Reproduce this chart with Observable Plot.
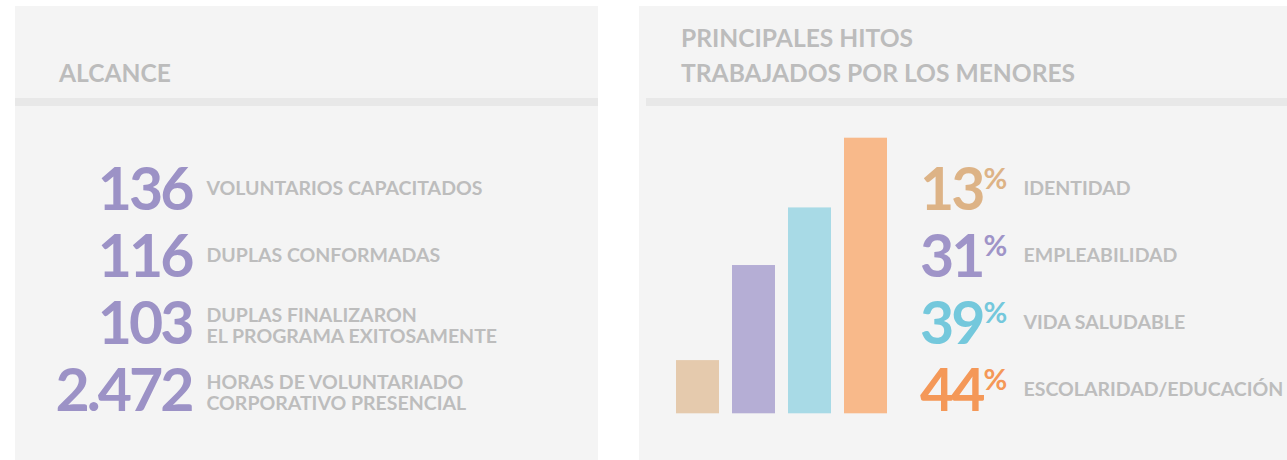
<!DOCTYPE html>
<html><head><meta charset="utf-8">
<script src="https://cdn.jsdelivr.net/npm/d3@7"></script>
<script src="https://cdn.jsdelivr.net/npm/@observablehq/plot@0.6"></script>
<style>
html,body{margin:0;padding:0;background:#fff;}
#root{position:relative;width:1287px;height:460px;overflow:hidden;font-family:Lato,sans-serif;}
#root svg{position:absolute;}
#root g[font-size="59"] text{letter-spacing:-3px}
</style></head><body><div id="root"></div>
<script>
// ---- data ----
const alcanceValues = ["136", "116", "103", "2.472"];
const alcanceLabels = [
  "VOLUNTARIOS CAPACITADOS",
  "DUPLAS CONFORMADAS",
  "DUPLAS FINALIZARON\nEL PROGRAMA EXITOSAMENTE",
  "HORAS DE VOLUNTARIADO\nCORPORATIVO PRESENCIAL"
];
const hitosCategories = ["IDENTIDAD", "EMPLEABILIDAD", "VIDA SALUDABLE", "ESCOLARIDAD/EDUCACIÓN"];
const hitosPercent = [13, 31, 39, 44];
// bar lengths as drawn in the picture (percent of the tallest bar)
const hitosBarHeight = [19.3, 53.8, 74.7, 100];
const hitosBarColors = ["#e5caad", "#b5aed5", "#a8dae6", "#f8b98a"];
const hitosTextColors = ["#ddb386", "#9f94c8", "#74c8dc", "#f49858"];
const panelTitles = ["ALCANCE", "PRINCIPALES HITOS\nTRABAJADOS POR LOS MENORES"];

const root = document.getElementById("root");
const LABEL_GRAY = "#bdbdbd";
const FONT = "Lato, 'Open Sans', sans-serif";

// ---- background panels and titles ----
const bg = d3.create("svg").attr("width", 1287).attr("height", 460).style("left", "0px").style("top", "0px");
bg.append("rect").attr("x", 15).attr("y", 6).attr("width", 583).attr("height", 460).attr("fill", "#f4f4f4");
bg.append("rect").attr("x", 15).attr("y", 98).attr("width", 583).attr("height", 8).attr("fill", "#e8e8e8");
bg.append("rect").attr("x", 639).attr("y", 6).attr("width", 648).attr("height", 460).attr("fill", "#f4f4f4");
bg.append("rect").attr("x", 646).attr("y", 98).attr("width", 641).attr("height", 8).attr("fill", "#e8e8e8");
const titleStyle = t => t.attr("font-family", FONT).attr("font-weight", 700).attr("font-size", 24.6).attr("fill", "#bcbcbc");
titleStyle(bg.append("text").attr("x", 59).attr("y", 82).text(panelTitles[0]));
const t2 = titleStyle(bg.append("text").attr("x", 681).attr("y", 47));
panelTitles[1].split("\n").forEach((line, i) => {
  t2.append("tspan").attr("x", 681).attr("dy", i === 0 ? 0 : 35).text(line);
});
root.appendChild(bg.node());

const rowRange = [66.5, 270]; // row centers inside the list svgs (top = 120)
const plotStyle = {background: "transparent", overflow: "visible"};

// ---- left list: ALCANCE ----
const alcance = alcanceValues.map((v, i) => ({row: i, value: v, label: alcanceLabels[i], lines: alcanceLabels[i].split("\n").length}));
const left = Plot.plot({
  width: 583, height: 320,
  marginLeft: 177, marginRight: 0, marginTop: 0, marginBottom: 0,
  style: plotStyle,
  y: {type: "point", domain: d3.range(alcance.length), range: rowRange, padding: 0, axis: null},
  marks: [
    Plot.text(alcance, {y: "row", text: "value", frameAnchor: "left", textAnchor: "end", lineAnchor: "bottom", dy: 21, dx: -1,
      fontFamily: FONT, fontWeight: 700, fontSize: 59, fill: "#9c92c6"}),
    Plot.text(alcance.filter(d => d.lines === 1), {y: "row", text: "label", frameAnchor: "left", textAnchor: "start", dx: 14,
      lineAnchor: "middle", lineHeight: 1.05, fontFamily: FONT, fontWeight: 700, fontSize: 19.5, fill: LABEL_GRAY}),
    Plot.text(alcance.filter(d => d.lines > 1), {y: "row", text: "label", frameAnchor: "left", textAnchor: "start", dx: 14, dy: 3.5,
      lineAnchor: "middle", lineHeight: 1.05, fontFamily: FONT, fontWeight: 700, fontSize: 19.5, fill: LABEL_GRAY})
  ]
});
left.style.left = "15px"; left.style.top = "120px";
root.appendChild(left);

// ---- right bars ----
const hitos = hitosCategories.map((c, i) => ({row: i, category: c, pct: hitosPercent[i], bar: hitosBarHeight[i],
  barColor: hitosBarColors[i], textColor: hitosTextColors[i]}));
const bars = Plot.plot({
  width: 250, height: 310,
  marginLeft: 0, marginRight: 0, marginTop: 0, marginBottom: 0,
  style: plotStyle,
  color: {type: "identity"},
  x: {type: "band", domain: hitosCategories, range: [15.7, 227], paddingInner: 0.24, paddingOuter: 0, axis: null},
  y: {domain: [0, 100], range: [293.3, 17.7], axis: null},
  marks: [
    Plot.barY(hitos, {x: "category", y: "bar", fill: "barColor"})
  ]
});
bars.style.left = "660px"; bars.style.top = "120px";
root.appendChild(bars);

// ---- right list: percentages ----
const right = Plot.plot({
  width: 648, height: 320,
  marginLeft: 343, marginRight: 0, marginTop: 0, marginBottom: 0,
  style: plotStyle,
  color: {type: "identity"},
  y: {type: "point", domain: d3.range(hitos.length), range: rowRange, padding: 0, axis: null},
  marks: [
    Plot.text(hitos, {y: "row", text: d => String(d.pct), frameAnchor: "left", textAnchor: "end", lineAnchor: "bottom", dy: 21, dx: 0,
      fontFamily: FONT, fontWeight: 700, fontSize: 59, fill: "textColor"}),
    Plot.text(hitos, {y: "row", text: () => "%", frameAnchor: "left", textAnchor: "start", lineAnchor: "bottom", dx: 1, dy: 0,
      fontFamily: FONT, fontWeight: 700, fontSize: 29, fill: "textColor"}),
    Plot.text(hitos, {y: "row", text: "category", frameAnchor: "left", textAnchor: "start", dx: 41,
      lineAnchor: "middle", fontFamily: FONT, fontWeight: 700, fontSize: 19.5, fill: LABEL_GRAY})
  ]
});
right.style.left = "639px"; right.style.top = "120px";
root.appendChild(right);
</script>
</body></html>
